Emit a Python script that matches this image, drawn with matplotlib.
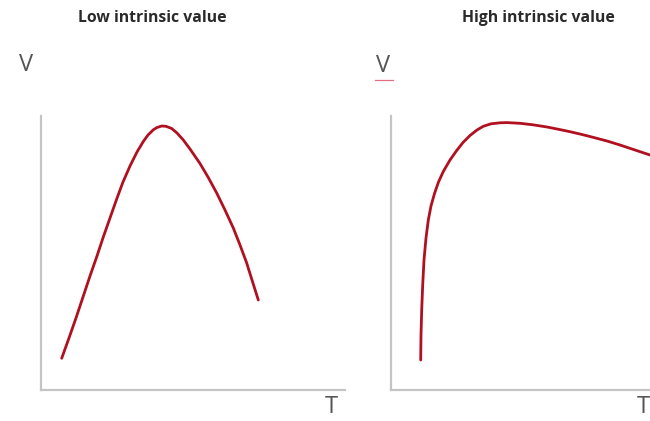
import matplotlib.pyplot as plt

W, H = 650, 421

# in pixels from each panel's axis corner
low_t = [20.7, 28, 35, 42, 49, 56, 62.3, 69, 75.7, 82, 89, 96, 102.3, 107, 112.3, 116,
         120.7, 125, 130.7, 136, 142.3, 149, 159, 167, 175.7, 184, 192.3, 199, 205.7, 211, 217.3]
low_v = [31.7, 52, 72, 93, 114, 134, 153, 172, 191, 208, 224, 238, 248.5, 255, 260.2, 262.5,
         264, 263.7, 261.5, 257, 250, 241, 226.5, 213, 197, 180, 162, 145, 127, 110, 90]

high_t = [29.7, 30, 30.7, 31.7, 33, 35, 37.3, 40, 43.5, 47.5, 52.3, 59, 65.7, 72, 79, 86,
          92.3, 100, 109, 116, 129, 142, 156, 169, 179, 191, 202, 216, 229, 244, 259]
high_v = [30, 55, 80, 105, 130, 152, 170, 184, 196.5, 208, 218.5, 230, 239.5, 247.5, 254.5, 260,
          263.7, 266.2, 267.2, 267.4, 266.7, 265.2, 263, 260.4, 258.3, 255.5, 252.7, 249, 245, 240, 235]

titles = ["Low intrinsic value", "High intrinsic value"]

fig = plt.figure(figsize=(W / 100, H / 100), dpi=100)
fig.patch.set_facecolor("white")


def px(x, y):
    return x / W, 1 - y / H


panels = [
    (41, 304, low_t, low_v),
    (391, 262, high_t, high_v),
]
for left, width, t, v in panels:
    ax = fig.add_axes([left / W, (H - 390) / H, width / W, 274 / H])
    ax.plot(t, v, color="#b01020", lw=2.0, solid_capstyle="round", solid_joinstyle="round")
    ax.set_xlim(0, width)
    ax.set_ylim(0, 274)
    for s in ["top", "right"]:
        ax.spines[s].set_visible(False)
    for s in ["left", "bottom"]:
        ax.spines[s].set_color("#c4c4c4")
        ax.spines[s].set_linewidth(1.6)
    ax.set_xticks([])
    ax.set_yticks([])
    ax.patch.set_alpha(0)

title_kw = dict(ha="center", va="center", fontsize=11.3, fontweight="bold",
                family="Open Sans", color="#2a2a2a")
fig.text(*px(152, 18), titles[0], **title_kw)
fig.text(*px(538, 18), titles[1], **title_kw)

axis_kw = dict(ha="center", va="center", fontsize=17, family="Open Sans", color="#555555")
fig.text(*px(26, 65), "V", **axis_kw)
fig.text(*px(383, 66), "V", **axis_kw)
fig.add_artist(plt.Line2D([375 / W, 393 / W], [1 - 80 / H] * 2, color="#e07080", lw=0.9))
fig.text(*px(331, 407), "T", **axis_kw)
fig.text(*px(643, 407), "T", **axis_kw)

fig.savefig("out.png", dpi=100, facecolor="white")
